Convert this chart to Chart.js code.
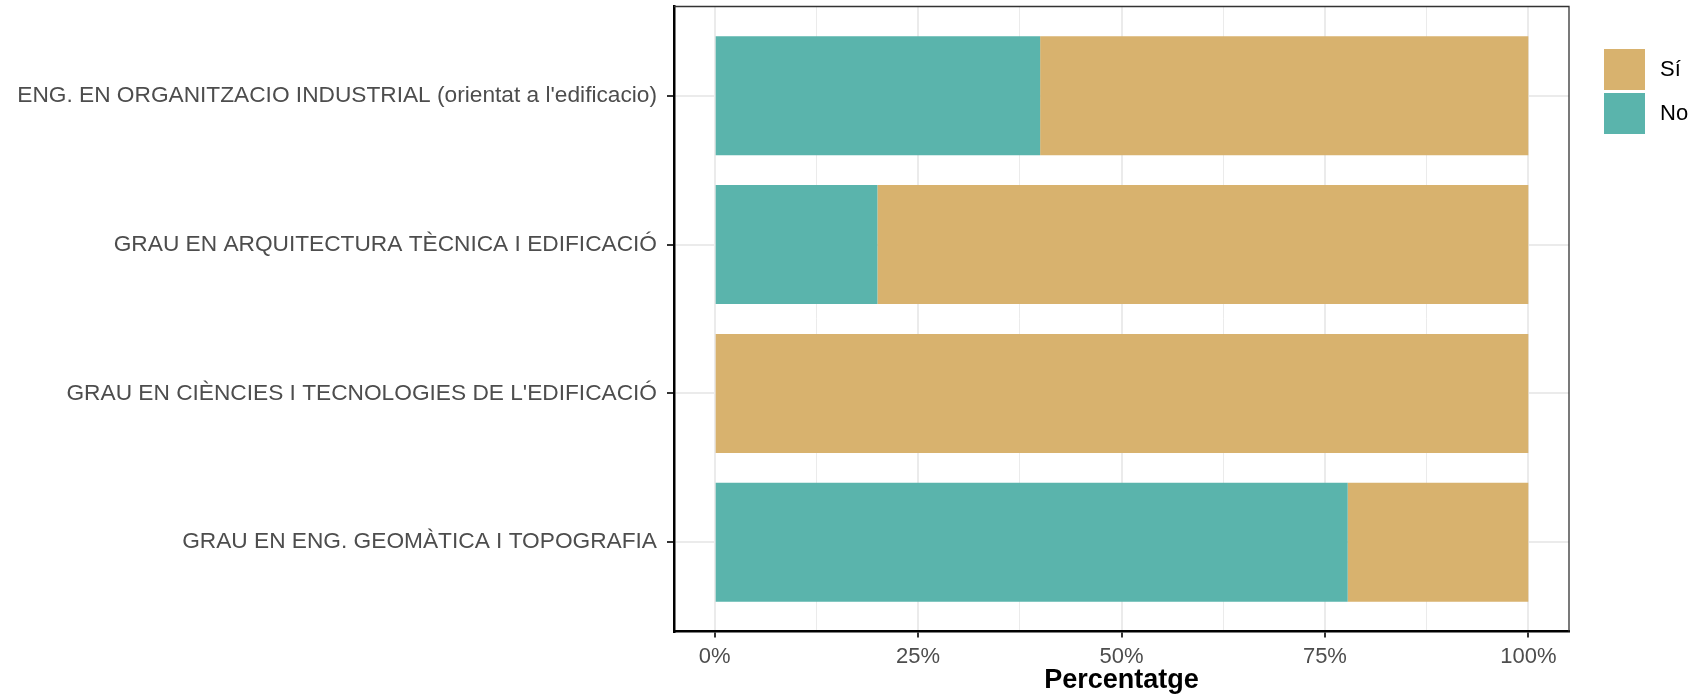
<!DOCTYPE html>
<html>
<head>
<meta charset="utf-8">
<script src="https://cdn.jsdelivr.net/npm/chart.js@4/dist/chart.umd.min.js"></script>
<style>
  html, body { margin: 0; padding: 0; background: #fff; }
  #wrap { width: 1707px; height: 699px; }
</style>
</head>
<body>
<div id="wrap"><canvas id="chart" width="1707" height="699"></canvas></div>
<script>
// categories, top to bottom
const categories = [
    "ENG. EN ORGANITZACIO INDUSTRIAL (orientat a l'edificacio)",
    "GRAU EN ARQUITECTURA TÈCNICA I EDIFICACIÓ",
    "GRAU EN CIÈNCIES I TECNOLOGIES DE L'EDIFICACIÓ",
    "GRAU EN ENG. GEOMÀTICA I TOPOGRAFIA"
];
const noValues = [40, 20, 0, 77.8];
const siValues = [60, 80, 100, 22.2];
const xTicks = [0, 12.5, 25, 37.5, 50, 62.5, 75, 87.5, 100];
const xTitle = 'Percentatge';

const FONT = "'Liberation Sans', Arial, Helvetica, sans-serif";
const isMajor = v => v % 25 === 0;

// draws the top/right panel border and the legend on the right
const panelAndLegend = {
    id: 'panelAndLegend',
    afterDraw(chart) {
        const c = chart.ctx;
        const a = chart.chartArea;
        c.save();
        c.strokeStyle = '#333333';
        c.lineWidth = 1.3;
        c.beginPath();
        c.moveTo(a.left, a.top);
        c.lineTo(a.right, a.top);
        c.lineTo(a.right, a.bottom);
        c.stroke();

        // legend: Sí first, then No (reverse of stacking order)
        const items = chart.data.datasets.slice().reverse();
        let y = 49;
        items.forEach(ds => {
            c.fillStyle = ds.backgroundColor;
            c.fillRect(1604, y, 41, 41);
            c.fillStyle = '#000000';
            c.font = '22px ' + FONT;
            c.textBaseline = 'middle';
            c.textAlign = 'left';
            c.fillText(ds.label, 1660, y + 21);
            y += 44;
        });
        c.restore();
    }
};

new Chart(document.getElementById('chart'), {
    type: 'bar',
    data: {
        datasets: [
            {
                label: 'No',
                data: noValues.map((v, i) => ({ x: v, y: i + 1 })),
                backgroundColor: '#5AB4AC',
                borderWidth: 0,
                categoryPercentage: 1,
                barPercentage: 0.8
            },
            {
                label: 'Sí',
                data: siValues.map((v, i) => ({ x: v, y: i + 1 })),
                backgroundColor: '#D8B26E',
                borderWidth: 0,
                categoryPercentage: 1,
                barPercentage: 0.8
            }
        ]
    },
    options: {
        indexAxis: 'y',
        responsive: false,
        animation: false,
        events: [],
        layout: { padding: { left: 0, top: 6.5, right: 138, bottom: 0 } },
        plugins: {
            legend: { display: false },
            tooltip: { enabled: false }
        },
        scales: {
            x: {
                type: 'linear',
                stacked: true,
                min: -5,
                max: 105,
                offset: false,
                afterBuildTicks: scale => { scale.ticks = xTicks.map(v => ({ value: v })); },
                afterFit: scale => { scale.height = 67.5; },
                ticks: {
                    autoSkip: false,
                    maxRotation: 0,
                    padding: 6,
                    color: '#4D4D4D',
                    font: { family: FONT, size: 22 },
                    callback: v => isMajor(v) ? v + '%' : ''
                },
                grid: {
                    offset: false,
                    color: '#EBEBEB',
                    lineWidth: ctx => (ctx.tick && isMajor(ctx.tick.value)) ? 2 : 1,
                    tickColor: ctx => (ctx.tick && isMajor(ctx.tick.value)) ? '#333333' : 'rgba(0,0,0,0)',
                    tickWidth: 2,
                    tickLength: 6
                },
                border: { display: true, color: '#000000', width: 2.5 },
                title: {
                    display: true,
                    text: xTitle,
                    color: '#000000',
                    font: { family: FONT, size: 27, weight: 'bold' },
                    padding: { top: 0, bottom: 2 }
                }
            },
            y: {
                type: 'linear',
                stacked: true,
                reverse: true,
                offset: false,
                bounds: 'data',
                min: 0.4,
                max: 4.6,
                afterBuildTicks: scale => { scale.ticks = categories.map((c, i) => ({ value: i + 1 })); },
                afterFit: scale => {
                    scale.width = 674;
                    scale.paddingTop = 0;
                    scale.paddingBottom = 0;
                },
                ticks: {
                    autoSkip: false,
                    padding: 10,
                    color: '#4D4D4D',
                    font: { family: FONT, size: 22.7 },
                    callback: v => categories[v - 1]
                },
                grid: {
                    offset: false,
                    color: '#EBEBEB',
                    lineWidth: 2,
                    tickColor: '#333333',
                    tickWidth: 2,
                    tickLength: 7
                },
                border: { display: true, color: '#000000', width: 2.5 }
            }
        }
    },
    plugins: [panelAndLegend]
});
</script>
</body>
</html>
